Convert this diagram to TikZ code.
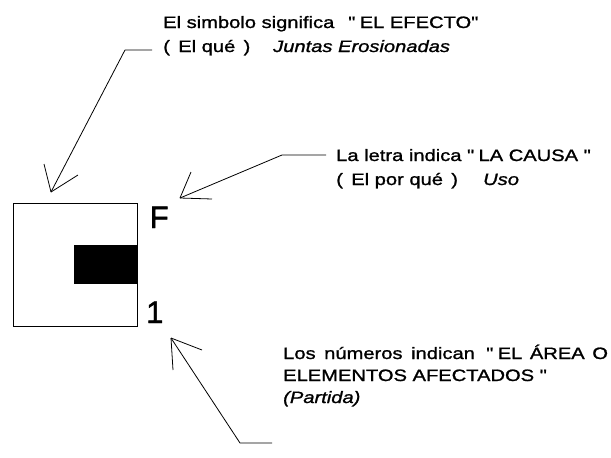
\documentclass[tikz,border=0pt]{standalone}
\usepackage{fontspec}
\setmainfont{Liberation Sans}
\newfontfamily\lblfont[FakeStretch=1.22,FakeBold=1.2]{Liberation Sans}
\newfontfamily\bigfont[FakeBold=1.5]{Liberation Sans}
\tikzset{
  lbl/.style={anchor=base west, inner sep=0pt, font=\lblfont\fontsize{16.5}{22}\selectfont, align=left},
  big/.style={anchor=base west, inner sep=0pt, font=\bigfont\fontsize{31}{31}\selectfont},
  leader/.style={draw=black, line width=0.8pt, line join=round},
  symbox/.style={draw=black, line width=1.3pt}
}
\begin{document}
\begin{tikzpicture}[x=1pt,y=-1pt]
\useasboundingbox (0,0) rectangle (611,458);
% symbol box
\node[symbox, minimum width=124pt, minimum height=123pt, inner sep=0pt, anchor=north west] (box) at (13,203) {};
\fill[black] (74,245) rectangle (137,284);
\node[big] (F) at (149.5,228) {F};
\node[big] (one) at (146,323) {1};
% texts
\node[lbl] (t1) at (163,28) {El simbolo significa \ \,\textquotedbl\ EL EFECTO\textquotedbl};
\node[lbl] (t1b) at (163,52) {(\ \,El qué\ \,)};
\node[lbl] (t1c) at (273,52) {\itshape Juntas Erosionadas};
\node[lbl] (t2) at (336,161) {La letra indica \textquotedbl\ LA CAUSA \textquotedbl};
\node[lbl] (t2b) at (336,185) {(\ \,El por qué\ \,)};
\node[lbl] (t2c) at (483,185) {\itshape Uso};
\node[lbl] (t3) at (283,403) {Los\hspace{3pt} números\hspace{3pt} indican\hspace{3pt} \,\textquotedbl\ EL\hspace{2pt} ÁREA\hspace{2pt} O\\ELEMENTOS AFECTADOS \textquotedbl\\{\itshape (Partida)}};
% leader coordinates
\coordinate (a1s) at (152,50);
\coordinate (a1b) at (125,50);
\coordinate (a1t) at (51,192);
\coordinate (a2s) at (326,155);
\coordinate (a2b) at (282,155);
\coordinate (a2t) at (180,198);
\coordinate (a3s) at (272,443);
\coordinate (a3b) at (240,443);
\coordinate (a3t) at (171,338);
% leaders
\draw[leader] (a1s) -- (a1b) -- (a1t);
\draw[leader] (a1t) -- (44,164);
\draw[leader] (a1t) -- (78,175);
\draw[leader] (a2s) -- (a2b) -- (a2t);
\draw[leader] (a2t) -- (191,172);
\draw[leader] (a2t) -- (212,199);
\draw[leader] (a3s) -- (a3b) -- (a3t);
\draw[leader] (a3t) -- (173,370);
\draw[leader] (a3t) -- (202,350);
\end{tikzpicture}
\end{document}
